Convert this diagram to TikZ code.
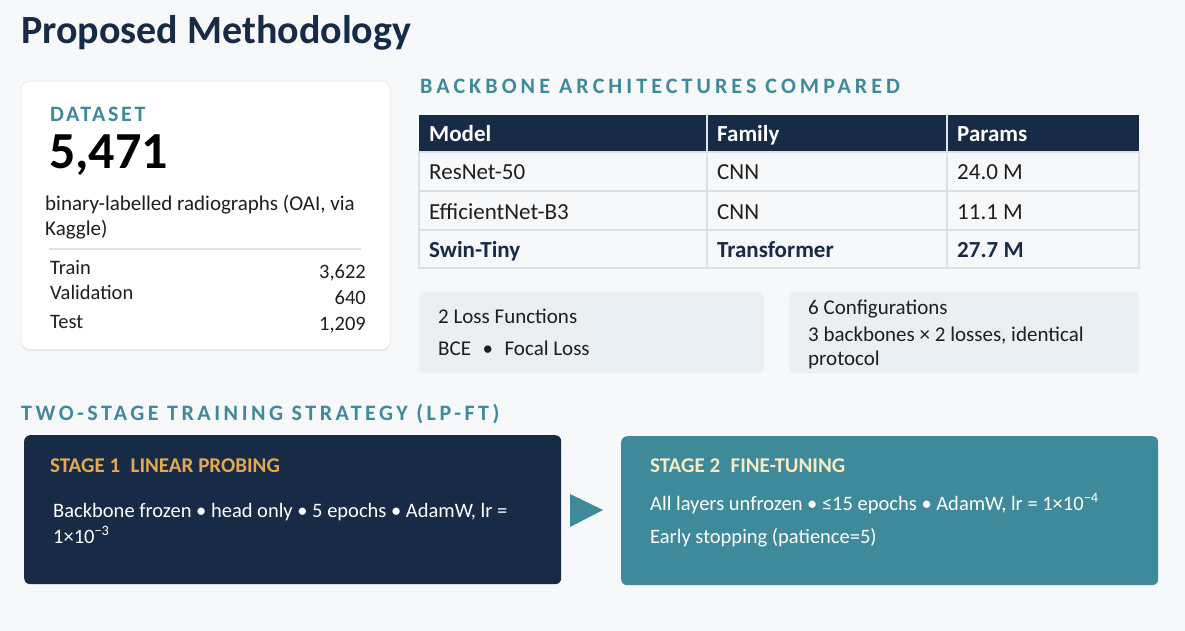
\documentclass[tikz,border=0pt]{standalone}
\usepackage{fontspec}
\setmainfont{Carlito}
\newfontfamily\spaced[LetterSpace=16]{Carlito}
\newfontfamily\bspaced[LetterSpace=18.5]{Carlito}
\newfontfamily\dspaced[LetterSpace=12]{Carlito}
\usetikzlibrary{shadows}
\definecolor{navy}{HTML}{172A46}
\definecolor{tealc}{HTML}{3E8A9A}
\definecolor{gold}{HTML}{E4A853}
\definecolor{cream}{HTML}{F6EBC5}
\definecolor{boxbg}{HTML}{E9EFF2}
\definecolor{pagebg}{HTML}{F6F8FA}
\definecolor{rulec}{HTML}{DCE1E6}
\definecolor{ink}{HTML}{1E1E1E}
\newcommand{\fs}[1]{\fontsize{#1}{#1}\selectfont}

\begin{document}
\begin{tikzpicture}[x=1pt,y=-1pt,
    txt/.style={anchor=base west,inner sep=0pt,text=ink},
    num/.style={anchor=base east,inner sep=0pt,text=ink,font=\fs{20.5}},
    heading/.style={txt,text=tealc,font=\spaced\bfseries\fs{22}},
    cell/.style={txt,font=\fs{23}},
    hcell/.style={txt,text=white,font=\bfseries\fs{23}},
    bcell/.style={txt,text=navy,font=\bfseries\fs{23}},
    panel/.style={anchor=north west,inner sep=0pt,rounded corners=6pt},
    body/.style={txt,font=\fs{21}}]
    \useasboundingbox[fill=pagebg] (0,0) rectangle (1185,631);

    % 标题
    \node[txt,text=navy,font=\bfseries\fs{40}] (title) at (21,44) {Proposed Methodology};

    % 数据集卡片
    \node[panel,rounded corners=8pt,fill=white,draw=rulec,minimum width=369pt,minimum height=268pt,
        drop shadow={shadow xshift=0pt,shadow yshift=-2pt,opacity=0.10}] (card) at (21,81) {};
    \node[txt,text=tealc,font=\dspaced\bfseries\fs{22}] (dlabel) at (50,122) {DATASET};
    \node[txt,text=black,font=\bfseries\fs{52}] (dcount) at (49,168) {5,471};
    \node[body] (ddesc) at (45,211) {binary-labelled radiographs (OAI, via};
    \node[body] (ddesc2) at (45,235) {Kaggle)};
    \draw[rulec,line width=1.2pt] (49,249) -- (361,249);
    \node[txt,font=\fs{20.5}] (train) at (50,274) {Train};
    \node[num] (ntrain) at (366,278) {3,622};
    \node[txt,font=\fs{20.5}] (val) at (50,299) {Validation};
    \node[num] (nval) at (366,304) {640};
    \node[txt,font=\fs{20.5}] (test) at (50,328) {Test};
    \node[num] (ntest) at (366,330) {1,209};

    % 骨干网络表
    \node[heading,font=\bspaced\bfseries\fs{22}] (bhead) at (420,94) {BACKBONE ARCHITECTURES COMPARED};
    \fill[navy] (419,115) rectangle (1139,152);
    \foreach \y in {191,230} \draw[rulec,line width=1.2pt] (419,\y) -- (1139,\y);
    \draw[rulec,line width=1.2pt] (419,152) rectangle (1139,268);
    \draw[rulec,line width=1.2pt] (707,115) -- (707,268) (947,115) -- (947,268);
    \node[hcell] (hmodel) at (429,142) {Model};
    \node[hcell] (hfam) at (717,142) {Family};
    \node[hcell] (hpar) at (957,142) {Params};
    \node[cell] (m1) at (429,180) {ResNet-50};
    \node[cell] (f1) at (717,180) {CNN};
    \node[cell] (p1) at (957,180) {24.0 M};
    \node[cell] (m2) at (429,219) {EfficientNet-B3};
    \node[cell] (f2) at (717,219) {CNN};
    \node[cell] (p2) at (957,219) {11.1 M};
    \node[bcell] (m3) at (429,257) {Swin-Tiny};
    \node[bcell] (f3) at (717,257) {Transformer};
    \node[bcell] (p3) at (957,257) {27.7 M};

    % 损失函数 / 配置
    \node[panel,fill=boxbg,minimum width=345pt,minimum height=81pt] (loss) at (419,292) {};
    \node[body] (losst) at (438,323) {2 Loss Functions};
    \node[body] (lossl) at (438,355) {BCE\hspace{0.55em}•\hspace{0.55em}Focal Loss};
    \node[panel,fill=boxbg,minimum width=350pt,minimum height=81pt] (conf) at (789,292) {};
    \node[body] (conft) at (808,314) {6 Configurations};
    \node[body] (confl) at (808,341) {3 backbones × 2 losses, identical};
    \node[body] (confl2) at (808,365) {protocol};

    % 两阶段训练
    \node[heading] (thead) at (21,420) {TWO-STAGE TRAINING STRATEGY (LP-FT)};
    \node[panel,fill=navy,minimum width=537pt,minimum height=149pt] (stage1) at (24,435) {};
    \node[txt,text=gold,font=\bfseries\fs{21}] (s1t) at (50,472) {STAGE 1\hspace{0.5em}LINEAR PROBING};
    \node[body,text=white,font=\fs{20.5}] (s1a) at (53,517) {Backbone frozen • head only • 5 epochs • AdamW, lr =};
    \node[body,text=white,font=\fs{20.5}] (s1b) at (53,543) {1×10\textsuperscript{−3}};
    \fill[tealc] (570,494) -- (603,510) -- (570,527) -- cycle;
    \node[panel,fill=tealc,minimum width=537pt,minimum height=149pt] (stage2) at (621,436) {};
    \node[txt,text=cream,font=\bfseries\fs{21}] (s2t) at (650,472) {STAGE 2\hspace{0.5em}FINE-TUNING};
    \node[body,text=white,font=\fs{20.5}] (s2a) at (650,510) {All layers unfrozen • ≤15 epochs • AdamW, lr = 1×10\textsuperscript{−4}};
    \node[body,text=white,font=\fs{20.5}] (s2b) at (650,543) {Early stopping (patience=5)};

\end{tikzpicture}
\end{document}
